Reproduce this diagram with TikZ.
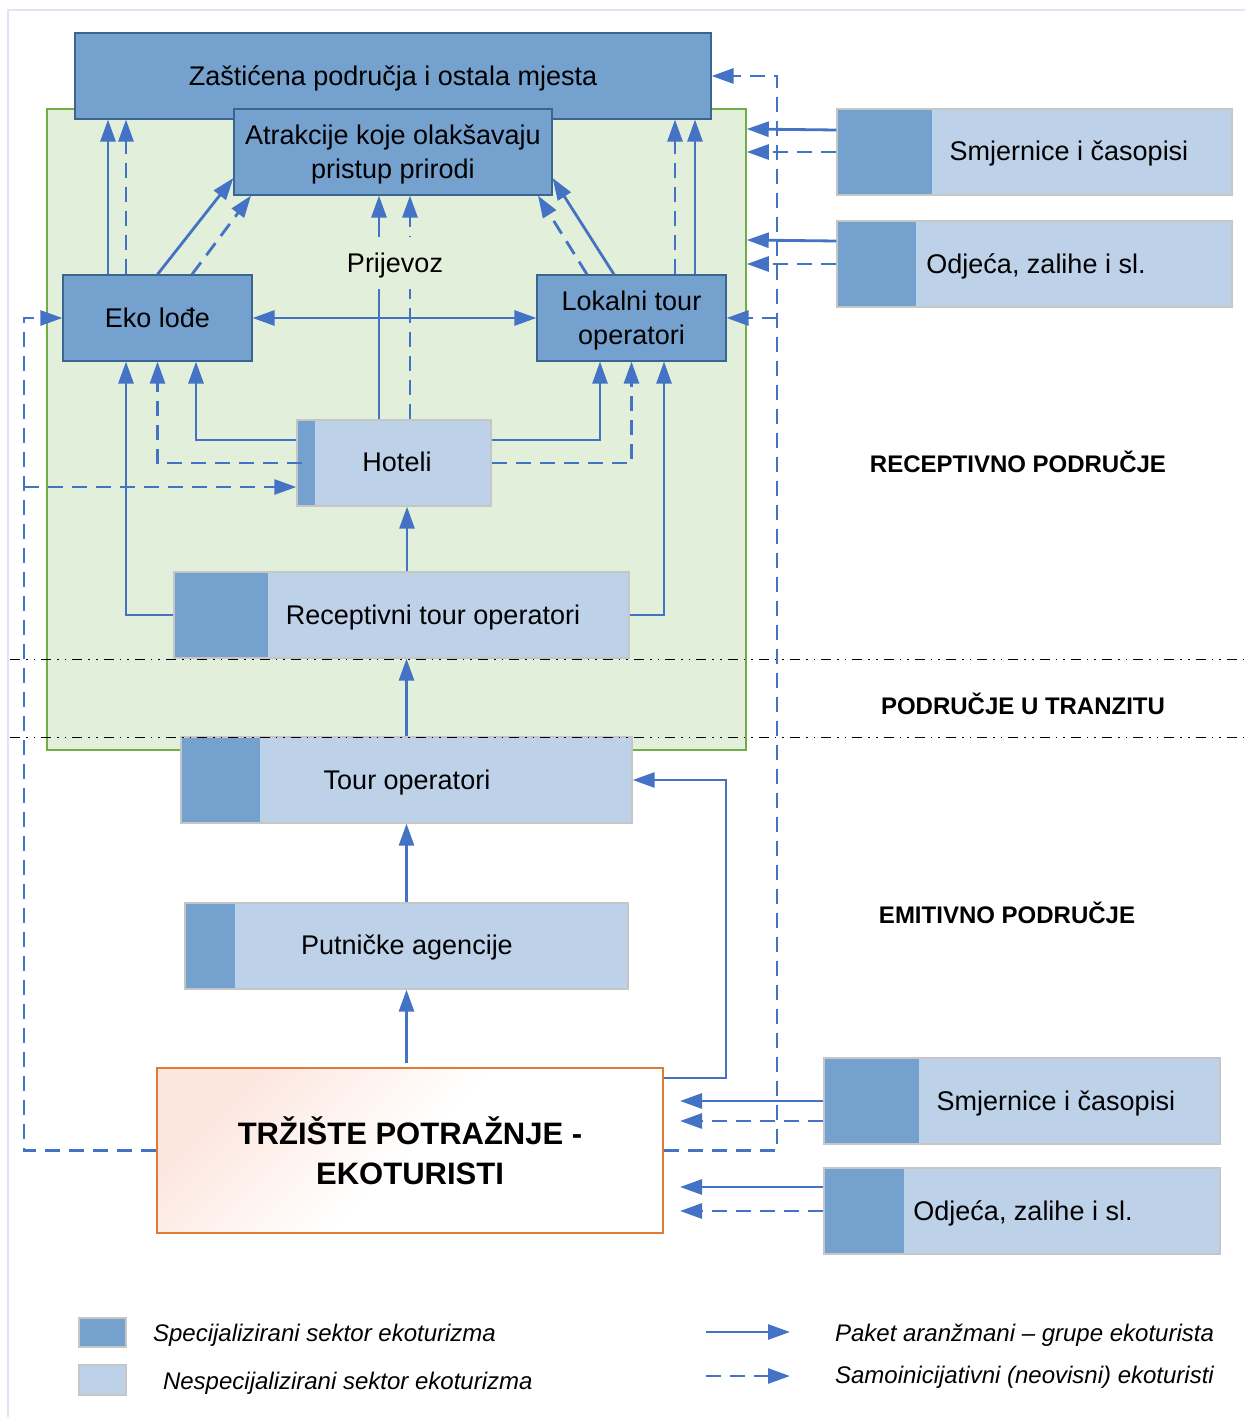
\documentclass[tikz,border=0pt]{standalone}
\usepackage{fontspec}
\setmainfont{Liberation Sans}
\usetikzlibrary{arrows.meta}

\definecolor{tamnoplava}{HTML}{75A1CE}
\definecolor{svijetloplava}{HTML}{BDD1E9}
\definecolor{rub}{HTML}{3A6591}
\definecolor{sivo}{HTML}{C6C6C6}
\definecolor{tok}{HTML}{4472C4}
\definecolor{zona}{HTML}{E2EFDA}
\definecolor{zonarub}{HTML}{70AD47}
\definecolor{trziste}{HTML}{E2793A}
\definecolor{ruza}{HTML}{FCE6DE}
\definecolor{okvir}{HTML}{DDE6F2}

\tikzset{
  spec/.style={draw=rub, fill=tamnoplava, line width=0.6pt, inner sep=0pt, align=center,
    text depth=0pt, font=\fontsize{13.5}{17}\selectfont},
  dvoboja/.style={draw=sivo, fill=svijetloplava, line width=0.7pt, inner sep=0pt,
    path picture={\fill[tamnoplava] (path picture bounding box.south west) rectangle ([xshift=#1]path picture bounding box.north west);}},
  natpis/.style={text depth=0pt, font=\fontsize{13.5}{17}\selectfont},
  podrucje/.style={text depth=0pt, font=\bfseries\fontsize{12}{14}\selectfont},
  legenda/.style={anchor=west, text depth=0pt, font=\itshape\fontsize{12}{14}\selectfont},
  paket/.style={draw=tok, line width=1.4pt, ->},
  samo/.style={paket, dash pattern=on 7.5pt off 4.5pt},
  granica/.style={line width=0.5pt, dash pattern=on 5pt off 3pt on 0.8pt off 3pt on 0.8pt off 3pt},
}

\begin{document}
\begin{tikzpicture}[x=0.5pt, y=-0.5pt, >={Triangle[length=11pt,width=7.5pt]}]
    \useasboundingbox (0,0) rectangle (1245,1417);
    \draw[okvir, line width=0.8pt] (8,1417) -- (8,10) -- (1245,10);

    % receptivno podrucje
    \node[draw=zonarub, fill=zona, line width=0.75pt, inner sep=0pt, minimum width=349.5pt, minimum height=320.5pt] (rec) at (396.5,429.5) {};

    \node[spec, minimum width=318pt, minimum height=43pt] (zas) at (393,76) {Zaštićena područja i ostala mjesta};
    \node[spec, minimum width=159pt, minimum height=43pt] (atr) at (393,152) {Atrakcije koje olakšavaju\\pristup prirodi};
    \node[spec, minimum width=94.5pt, minimum height=43pt] (eko) at (157.5,318) {Eko lođe};
    \node[spec, minimum width=94.5pt, minimum height=43pt] (lok) at (631.5,318) {Lokalni tour\\operatori};

    \node[dvoboja=9pt, minimum width=97pt, minimum height=43pt] (hot) at (394,463) {};
    \node[natpis] (hot-t) at (397,462) {Hoteli};
    \node[dvoboja=47pt, minimum width=227.5pt, minimum height=43pt] (rto) at (401.5,615) {};
    \node[natpis] (rto-t) at (433,615) {Receptivni tour operatori};
    \node[dvoboja=39.5pt, minimum width=225.5pt, minimum height=43pt] (tour) at (406.5,780) {};
    \node[natpis] (tour-t) at (407,780) {Tour operatori};
    \node[dvoboja=25pt, minimum width=221.5pt, minimum height=43pt] (put) at (406.5,946) {};
    \node[natpis] (put-t) at (407,945) {Putničke agencije};

    \node[draw=trziste, line width=0.9pt, top color=ruza, bottom color=white, middle color=white, shading angle=45,
      minimum width=253pt, minimum height=82.5pt, align=center, text depth=0pt,
      font=\bfseries\fontsize{15.5}{20}\selectfont] (mkt) at (410,1150.5) {TRŽIŠTE POTRAŽNJE -\\EKOTURISTI};

    % dobavljaci
    \node[dvoboja=47.5pt, minimum width=197.5pt, minimum height=43pt] (sm1) at (1034.5,152) {};
    \node[natpis] (sm1-t) at (1069,151) {Smjernice i časopisi};
    \node[dvoboja=39.5pt, minimum width=197.5pt, minimum height=43pt] (od1) at (1034.5,264) {};
    \node[natpis] (od1-t) at (1036,264) {Odjeća, zalihe i sl.};
    \node[dvoboja=47.5pt, minimum width=198pt, minimum height=43pt] (sm2) at (1022,1101) {};
    \node[natpis] (sm2-t) at (1056,1101) {Smjernice i časopisi};
    \node[dvoboja=40pt, minimum width=198pt, minimum height=43pt] (od2) at (1022,1211) {};
    \node[natpis] (od2-t) at (1023,1211) {Odjeća, zalihe i sl.};

    \node[podrucje] (p1) at (1018,462) {RECEPTIVNO PODRUČJE};
    \node[podrucje] (p2) at (1023,704) {PODRUČJE U TRANZITU};
    \node[podrucje] (p3) at (1007,913) {EMITIVNO PODRUČJE};

    % tokovi unutar destinacije
    \draw[paket] (eko.north -| 108,0) -- (108,0 |- zas.south);
    \draw[samo] (eko.north -| 126,0) -- (126,0 |- zas.south);
    \draw[paket] (eko.north) -- (atr.west |- 0,178);
    \draw[samo] (eko.north -| 192,0) -- (atr.south -| 251,0);
    \draw[samo] (lok.north -| 675,0) -- (675,0 |- zas.south);
    \draw[paket] (lok.north -| 695,0) -- (695,0 |- zas.south);
    \draw[paket] (lok.north -| 614,0) -- (atr.east |- 0,178);
    \draw[samo] (lok.north -| 587,0) -- (atr.south -| 538,0);
    \draw[paket] (hot.north -| 379,0) -- (379,0 |- atr.south);
    \draw[samo] (hot.north -| 410,0) -- (410,0 |- atr.south);
    \node[natpis, fill=zona, minimum height=26pt, inner xsep=1pt] (prv) at (395,263) {Prijevoz};
    \draw[paket,<->] (eko) -- (lok);

    \draw[paket] (hot.west |- 0,440) -| (eko.south -| 196,0);
    \draw[samo] ([xshift=3pt]hot.west) -| (eko.south);
    \draw[paket] (hot.east |- 0,440) -| (lok.south -| 600,0);
    \draw[samo] (hot.east) -| (lok.south);
    \draw[paket] (rto.west) -| (eko.south -| 126,0);
    \draw[paket] (rto.east) -| (lok.south -| 664,0);
    \draw[paket] (rto.north -| 407,0) -- (407,0 |- hot.south);

    % lanac od trzista
    \draw[paket] (tour.north) -- (tour.north |- rto.south);
    \draw[paket] (put.north) -- (put.north |- tour.south);
    \draw[paket] (put.south |- 0,1063) -- (put.south);
    \draw[paket] (mkt.east |- 0,1078) -- (726,1078) |- (tour.east);

    \draw[samo] (mkt.west) -| (24,318) -- (eko.west);
    \draw[samo] (24,487) -- (hot.west |- 0,487);
    \draw[samo] (mkt.east) -| (777,76) -- (zas.east);
    \draw[samo] (777,318) -- (lok.east);

    \draw[paket] (sm1.west |- 0,130) -- (rec.east |- 0,129);
    \draw[samo] (sm1.west) -- (rec.east |- sm1.west);
    \draw[paket] (od1.west |- 0,241) -- (rec.east |- 0,240);
    \draw[samo] (od1.west) -- (rec.east |- od1.west);
    \draw[paket] (sm2.west) -- (sm2.west -| 680,0);
    \draw[samo] (sm2.west |- 0,1121) -- (680,1121);
    \draw[paket] (od2.west |- 0,1187) -- (680,1187);
    \draw[samo] (od2.west) -- (od2.west -| 680,0);

    % granice podrucja
    \draw[granica] (10,659) -- (1245,659);
    \draw[granica] (10,737) -- (1245,737);

    % legenda
    \filldraw[fill=tamnoplava, draw=sivo, line width=0.7pt] (79,1318) rectangle (126,1347);
    \filldraw[fill=svijetloplava, draw=sivo, line width=0.7pt] (79,1365) rectangle (126,1395);
    \node[legenda] (l1) at (146,1333) {Specijalizirani sektor ekoturizma};
    \node[legenda] (l2) at (156,1381) {Nespecijalizirani sektor ekoturizma};
    \draw[paket] (706,1332) -- (790,1332);
    \draw[samo] (706,1376) -- (790,1376);
    \node[legenda] (l3) at (828,1333) {Paket aranžmani – grupe ekoturista};
    \node[legenda] (l4) at (828,1375) {Samoinicijativni (neovisni) ekoturisti};
\end{tikzpicture}
\end{document}
